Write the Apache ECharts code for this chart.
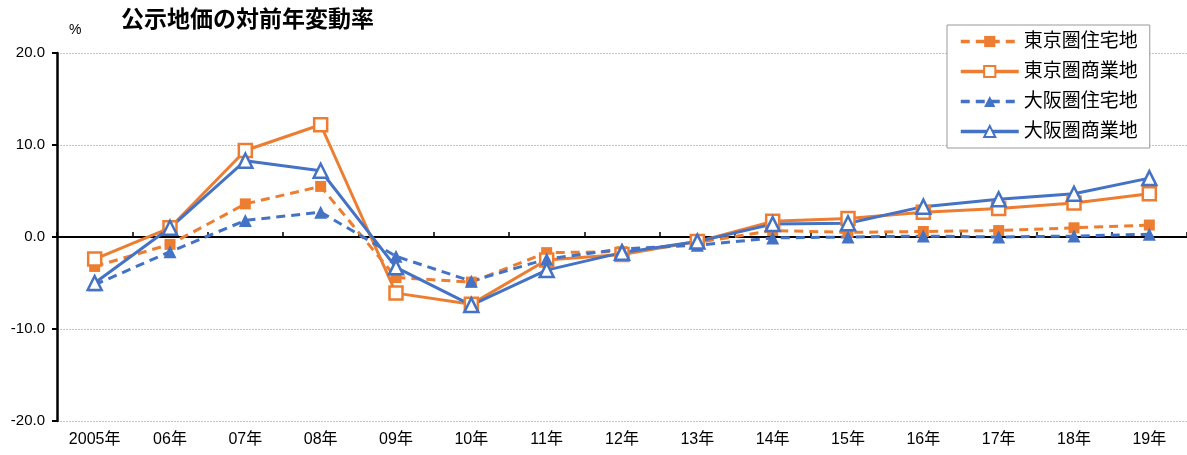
<!DOCTYPE html>
<html>
<head>
<meta charset="utf-8">
<script src="https://cdn.jsdelivr.net/npm/echarts@6/dist/echarts.min.js"></script>
<style>
  html, body { margin: 0; padding: 0; background: #fff; }
  #chart { width: 1187px; height: 455px; }
</style>
</head>
<body>
<div id="chart"></div>
<script>
const years = ['2005年', '06年', '07年', '08年', '09年', '10年', '11年', '12年', '13年', '14年', '15年', '16年', '17年', '18年', '19年'];
const tokyoRes = [-3.2, -0.8, 3.6, 5.5, -4.4, -4.9, -1.7, -1.6, -0.6, 0.7, 0.5, 0.6, 0.7, 1.0, 1.3];
const tokyoCom = [-2.4, 1.0, 9.4, 12.2, -6.1, -7.3, -2.5, -1.9, -0.5, 1.7, 2.0, 2.7, 3.1, 3.7, 4.7];
const osakaRes = [-5.2, -1.6, 1.8, 2.7, -2.1, -4.8, -2.4, -1.3, -0.9, -0.1, 0.0, 0.1, 0.0, 0.1, 0.3];
const osakaCom = [-5.0, 1.0, 8.3, 7.2, -3.3, -7.4, -3.6, -1.7, -0.5, 1.4, 1.5, 3.3, 4.1, 4.7, 6.4];
const yTicks = [-20, -10, 0, 10, 20];

const font = "'Liberation Sans', 'Noto Sans CJK JP', sans-serif";
const orange = '#ED7D31';
const blue = '#4472C4';

const chart = echarts.init(document.getElementById('chart'));

function line(name, data, color, dashed, symbol, filled, size) {
    return {
        name: name,
        type: 'line',
        data: data,
        xAxisIndex: 0,
        symbol: symbol,
        symbolSize: size,
        lineStyle: { color: color, width: 3, type: dashed ? [9, 6] : 'solid' },
        itemStyle: { color: filled ? color : '#fff', borderColor: color, borderWidth: filled ? 0 : 2.5 },
        emphasis: { disabled: true },
        z: 3
    };
}

const option = {
    animation: false,
    textStyle: { fontFamily: font },
    graphic: [
        { type: 'text', left: 121, top: 9, style: { text: '公示地価の対前年変動率', font: 'bold 23px ' + font, fill: '#000' } },
        { type: 'text', left: 69, top: 23, style: { text: '%', font: '14px ' + font, fill: '#000' } }
    ],
    legend: {
        orient: 'vertical',
        left: 947,
        top: 25,
        padding: [7, 12, 7, 12],
        itemWidth: 58,
        itemHeight: 14,
        itemGap: 11,
        backgroundColor: '#fff',
        borderColor: '#999',
        borderWidth: 1,
        borderRadius: 0,
        lineStyle: { width: 3.5 },
        textStyle: { fontSize: 19, color: '#000', fontFamily: font },
        data: ['東京圏住宅地', '東京圏商業地', '大阪圏住宅地', '大阪圏商業地']
    },
    grid: { left: 57, top: 53, width: 1132, bottom: 34 },
    xAxis: [
        {
            type: 'category',
            data: years,
            boundaryGap: true,
            axisLine: { onZero: true, lineStyle: { color: '#000', width: 2 } },
            axisTick: { show: true, inside: true, length: 5, lineStyle: { color: '#000', width: 1.5 } },
            axisLabel: { show: false },
            z: 2
        },
        {
            type: 'category',
            data: years,
            boundaryGap: true,
            position: 'bottom',
            axisLine: { show: false, onZero: false },
            axisTick: { show: false },
            axisLabel: { color: '#000', fontSize: 16, margin: 11, fontFamily: font }
        }
    ],
    yAxis: {
        type: 'value',
        min: yTicks[0],
        max: yTicks[yTicks.length - 1],
        interval: 10,
        axisLine: { show: true, lineStyle: { color: '#000', width: 2.5 } },
        axisTick: { show: true, length: 5, lineStyle: { color: '#000', width: 2 } },
        axisLabel: { color: '#000', fontSize: 15, margin: 12, fontFamily: font, formatter: v => v.toFixed(1) },
        splitLine: { show: true, lineStyle: { color: '#c4c4c4', width: 1, type: [2, 1] } }
    },
    series: [
        line('東京圏住宅地', tokyoRes, orange, true, 'rect', true, 11),
        line('東京圏商業地', tokyoCom, orange, false, 'rect', false, 13),
        line('大阪圏住宅地', osakaRes, blue, true, 'triangle', true, 13),
        line('大阪圏商業地', osakaCom, blue, false, 'triangle', false, 14)
    ]
};

chart.setOption(option);
</script>
</body>
</html>
